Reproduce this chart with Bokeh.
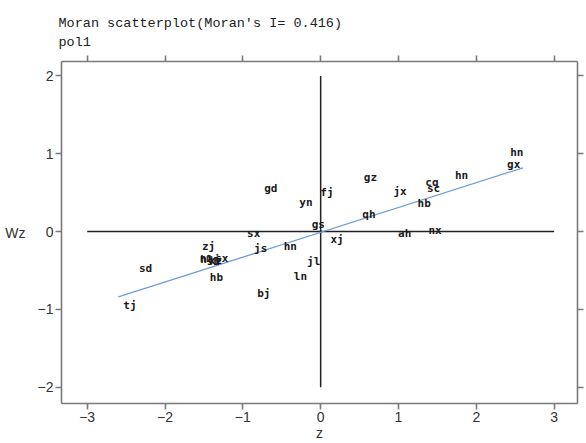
from bokeh.plotting import figure
from bokeh.models import ColumnDataSource, LinearAxis, FixedTicker, Range1d
from bokeh.core.properties import value
from bokeh.embed import file_html
from bokeh.resources import INLINE

# Region labels, standardized value z and spatial lag Wz
labels = ["tj", "sd", "zj", "nm", "hlj", "sh", "xz", "sx", "hb", "bj", "sx", "js",
          "hn", "jl", "ln", "xj", "gs", "yn", "fj", "gd", "gz", "qh", "jx", "ah",
          "nx", "cq", "sc", "hb", "hn", "hn", "gx"]
z = [-2.45, -2.25, -1.44, -1.47, -1.42, -1.38, -1.35, -1.27, -1.34, -0.73, -0.86, -0.77,
     -0.39, -0.09, -0.26, 0.21, -0.03, -0.19, 0.08, -0.64, 0.64, 0.62, 1.02, 1.08,
     1.47, 1.43, 1.45, 1.33, 1.81, 2.52, 2.48]
wz = [-0.95, -0.48, -0.19, -0.35, -0.36, -0.38, -0.37, -0.34, -0.59, -0.80, -0.03, -0.22,
      -0.19, -0.39, -0.58, -0.10, 0.09, 0.37, 0.50, 0.55, 0.69, 0.22, 0.51, -0.03,
      0.01, 0.63, 0.55, 0.36, 0.72, 1.02, 0.86]

# fitted line end points
fit_z = [-2.6, 2.6]
fit_wz = [-0.84, 0.82]

# reference cross lines
hline_z = [-3, 3]
hline_wz = [0, 0]
vline_z = [0, 0]
vline_wz = [-2, 2]

x_ticks = [-3, -2, -1, 0, 1, 2, 3]
y_ticks = [-2, -1, 0, 1, 2]

title_text = "Moran scatterplot(Moran's I= 0.416)\npol1"
x_label = "z"
y_label = "Wz"

X0, X1 = -3.33, 3.30
Y0, Y1 = -2.21, 2.186

p = figure(width=586, height=443, output_backend="svg", toolbar_location=None,
           x_range=Range1d(X0, X1), y_range=Range1d(Y0, Y1),
           x_axis_location=None, y_axis_location=None,
           min_border_left=61, min_border_right=9, min_border_top=61, min_border_bottom=39,
           background_fill_color="white", border_fill_color="white")
p.outline_line_color = None
p.grid.visible = False

AX = "#7a7a7a"
def mk_axis(ticks, show_labels, label=""):
    ax = LinearAxis(ticker=FixedTicker(ticks=ticks), axis_label=label,
                    axis_line_color=AX, axis_line_width=1.6,
                    major_tick_line_color=AX, major_tick_line_width=1.6,
                    major_tick_out=6, major_tick_in=0,
                    minor_tick_out=0, minor_tick_in=0,
                    major_label_text_font="Liberation Sans",
                    major_label_text_font_size="14px",
                    major_label_text_color="#333333",
                    major_label_standoff=2,
                    axis_label_text_font="Liberation Sans",
                    axis_label_text_font_size="14px",
                    axis_label_text_font_style="normal",
                    axis_label_text_color="#333333",
                    axis_label_standoff=0)
    if not show_labels:
        ax.major_label_overrides = {t: "" for t in ticks}
        ax.major_label_standoff = 0
    return ax

p.add_layout(mk_axis(x_ticks, True, x_label), "below")
p.add_layout(mk_axis(x_ticks, False), "above")
left_axis = mk_axis(y_ticks, True, y_label)
left_axis.axis_label_orientation = "horizontal"
left_axis.axis_label_standoff = 9
p.add_layout(left_axis, "left")
p.add_layout(mk_axis(y_ticks, False), "right")

p.title.text = title_text
p.title.align = "left"
p.title.offset = -3
p.title.text_font = "Liberation Mono"
p.title.text_font_size = "13.5px"
p.title.text_font_style = "normal"
p.title.text_color = "#222222"
p.title.text_line_height = 1.3
p.title.standoff = 11

p.line(hline_z, hline_wz, line_color="#222222", line_width=1.5)
p.line(vline_z, vline_wz, line_color="#222222", line_width=1.5)
p.line(fit_z, fit_wz, line_color="#6f9bd9", line_width=1.3)

src = ColumnDataSource(dict(z=z, wz=wz, lab=labels))
p.text(x="z", y="wz", text="lab", source=src, text_font=value("DejaVu Sans Mono"),
       text_font_size="11px", text_font_style="bold", text_color="#1a1a1a",
       text_align="center", text_baseline="middle")

open("out.html", "w").write(file_html(p, INLINE))
